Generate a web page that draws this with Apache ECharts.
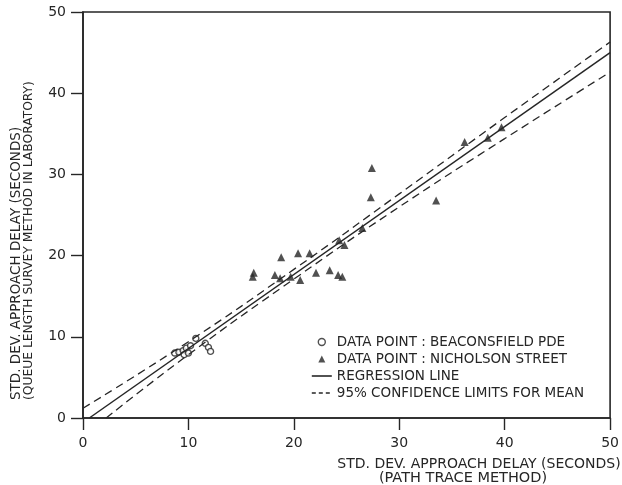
<!DOCTYPE html>
<html>
<head>
<meta charset="utf-8">
<script src="https://cdn.jsdelivr.net/npm/echarts@6/dist/echarts.min.js"></script>
<style>
  html, body { margin: 0; padding: 0; background: #fff; }
  #main { width: 622px; height: 485px; }
</style>
</head>
<body>
<div id="main"></div>
<script>
var xTicks = [0, 10, 20, 30, 40, 50];
var yTicks = [0, 10, 20, 30, 40, 50];

// Beaconsfield PDE (open circles)
var beaconsX = [8.7, 9.1, 9.5, 9.6, 9.8, 10.0, 10.2, 10.7, 11.6, 11.9, 12.1];
var beaconsY = [8.0, 8.1, 8.3, 7.8, 8.6, 8.0, 8.9, 9.8, 9.2, 8.7, 8.2];

// Nicholson Street (filled triangles)
var nichX = [16.1, 16.2, 18.2, 18.7, 18.8, 19.7, 20.4, 20.6, 21.5, 22.1, 23.4, 24.2, 24.6,
             24.3, 24.8, 26.5, 27.3, 27.4, 33.5, 36.2, 38.4, 39.7];
var nichY = [17.4, 17.9, 17.6, 17.2, 19.8, 17.4, 20.3, 17.0, 20.3, 17.9, 18.2, 17.6, 17.4,
             21.9, 21.3, 23.4, 27.2, 30.8, 26.8, 34.0, 34.5, 35.8];

// regression line and 95% confidence limits
var regX = [0.6, 50];
var regY = [0.0, 45.0];
var upperX = [0, 10, 20, 30, 40, 50];
var upperY = [1.2, 9.4, 18.3, 27.6, 37.0, 46.3];
var lowerX = [2.2, 10, 20, 30, 40, 50];
var lowerY = [0.0, 7.8, 17.1, 26.0, 34.4, 42.6];

var names = [
    'DATA POINT : BEACONSFIELD PDE',
    'DATA POINT : NICHOLSON STREET',
    'REGRESSION LINE',
    '95% CONFIDENCE LIMITS FOR MEAN'
];

function pairs(xs, ys) {
    var out = [];
    for (var i = 0; i < xs.length; i++) {
        out.push([xs[i], ys[i]]);
    }
    return out;
}

var ink = '#262626';
var font = 'DejaVu Sans';

var myChart = echarts.init(document.getElementById('main'));

var option = {
    backgroundColor: '#ffffff',
    animation: false,
    textStyle: { fontFamily: font, color: ink },
    grid: {
        left: 83,
        right: 7,
        top: 12,
        bottom: 67,
        show: true,
        borderColor: ink,
        borderWidth: 1.6
    },
    xAxis: {
        type: 'value',
        min: xTicks[0],
        max: xTicks[xTicks.length - 1],
        interval: 10,
        axisLine: { show: true, lineStyle: { color: ink, width: 1.6 } },
        axisTick: { show: true, length: 12, lineStyle: { color: ink, width: 1.4 } },
        axisLabel: { margin: 18, fontSize: 14, color: ink, fontFamily: font },
        splitLine: { show: false }
    },
    yAxis: {
        type: 'value',
        min: yTicks[0],
        max: yTicks[yTicks.length - 1],
        interval: 10,
        axisLine: { show: true, lineStyle: { color: ink, width: 1.6 } },
        axisTick: { show: true, length: 12, lineStyle: { color: ink, width: 1.4 } },
        axisLabel: { margin: 17, fontSize: 14, color: ink, fontFamily: font },
        splitLine: { show: false }
    },
    legend: {
        orient: 'vertical',
        left: 306,
        top: 330,
        itemWidth: 20,
        itemHeight: 7,
        itemGap: 3,
        textStyle: { fontSize: 13.5, color: ink, fontFamily: font },
        data: [
            { name: names[0], icon: 'circle', itemStyle: { color: '#fff', borderColor: ink, borderWidth: 1.4 } },
            { name: names[1], icon: 'path://M0,10 L5,0 L10,10 Z', itemStyle: { color: ink } },
            { name: names[2], itemStyle: { opacity: 0 }, lineStyle: { color: ink, width: 1.6, type: 'solid' } },
            { name: names[3], itemStyle: { opacity: 0 }, lineStyle: { color: ink, width: 1.3, type: [4, 3] } }
        ]
    },
    graphic: [
        {
            type: 'text',
            x: 479,
            y: 457,
            style: {
                text: 'STD. DEV. APPROACH DELAY (SECONDS)',
                font: '14px ' + font,
                fill: ink,
                textAlign: 'center'
            }
        },
        {
            type: 'text',
            x: 463,
            y: 471,
            style: {
                text: '(PATH TRACE METHOD)',
                font: '14.5px ' + font,
                fill: ink,
                textAlign: 'center'
            }
        },
        {
            type: 'text',
            x: 9,
            y: 400,
            rotation: Math.PI / 2,
            style: {
                text: 'STD. DEV. APPROACH DELAY (SECONDS)',
                font: '13.5px ' + font,
                fill: ink,
                textAlign: 'left'
            }
        },
        {
            type: 'text',
            x: 23,
            y: 400,
            rotation: Math.PI / 2,
            style: {
                text: '(QUEUE LENGTH SURVEY METHOD IN LABORATORY)',
                font: '12.3px ' + font,
                fill: ink,
                textAlign: 'left'
            }
        }
    ],
    series: [
        {
            name: names[2],
            type: 'line',
            showSymbol: false,
            symbol: 'none',
            lineStyle: { color: ink, width: 1.5 },
            itemStyle: { color: ink },
            data: pairs(regX, regY)
        },
        {
            name: names[3],
            type: 'line',
            smooth: true,
            showSymbol: false,
            symbol: 'none',
            lineStyle: { color: ink, width: 1.3, type: [8, 5] },
            itemStyle: { color: ink },
            data: pairs(upperX, upperY)
        },
        {
            name: names[3],
            type: 'line',
            smooth: true,
            showSymbol: false,
            symbol: 'none',
            lineStyle: { color: ink, width: 1.3, type: [8, 5] },
            itemStyle: { color: ink },
            data: pairs(lowerX, lowerY)
        },
        {
            name: names[0],
            type: 'scatter',
            symbol: 'circle',
            symbolSize: 6,
            itemStyle: { color: '#ffffff', borderColor: ink, borderWidth: 1.4 },
            data: pairs(beaconsX, beaconsY)
        },
        {
            name: names[1],
            type: 'scatter',
            symbol: 'triangle',
            symbolSize: 8,
            itemStyle: { color: ink },
            data: pairs(nichX, nichY)
        }
    ]
};

myChart.setOption(option);
</script>
</body>
</html>
